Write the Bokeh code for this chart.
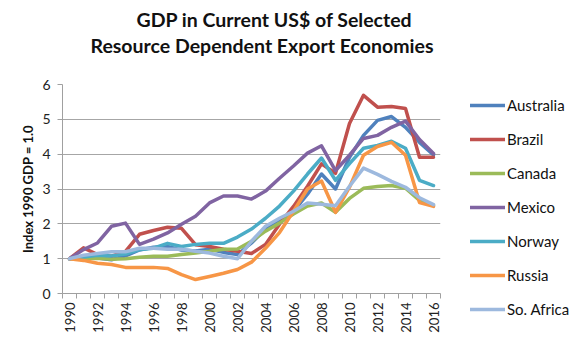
import math
from bokeh.plotting import figure
from bokeh.models import Range1d, FixedTicker, Legend, LegendItem, Title
from bokeh.embed import file_html
from bokeh.resources import INLINE

years = list(range(1990, 2017))
tick_years = list(range(1990, 2017, 2))
y_ticks = [0, 1, 2, 3, 4, 5, 6]

australia = [1.00, 1.05, 1.02, 0.97, 1.08, 1.25, 1.33, 1.35, 1.25, 1.22, 1.27, 1.18, 1.12, 1.45, 1.85, 2.10, 2.36, 2.85, 3.43, 3.00, 3.91, 4.54, 4.97, 5.08, 4.77, 4.34, 3.98]
brazil = [1.00, 1.31, 1.12, 1.07, 1.21, 1.70, 1.81, 1.90, 1.87, 1.40, 1.35, 1.27, 1.21, 1.15, 1.41, 1.99, 2.50, 3.08, 3.72, 3.45, 4.88, 5.69, 5.35, 5.37, 5.31, 3.91, 3.91]
canada = [1.00, 1.00, 1.01, 0.98, 1.00, 1.04, 1.07, 1.07, 1.12, 1.16, 1.21, 1.27, 1.28, 1.50, 1.79, 2.02, 2.28, 2.51, 2.60, 2.33, 2.73, 3.02, 3.07, 3.10, 3.02, 2.67, 2.53]
mexico = [1.00, 1.26, 1.45, 1.93, 2.02, 1.41, 1.56, 1.74, 1.99, 2.22, 2.60, 2.80, 2.80, 2.71, 2.94, 3.31, 3.66, 4.03, 4.24, 3.53, 3.97, 4.45, 4.54, 4.77, 4.95, 4.42, 4.02]
norway = [1.00, 1.05, 1.10, 1.08, 1.13, 1.26, 1.30, 1.44, 1.35, 1.41, 1.44, 1.44, 1.62, 1.85, 2.16, 2.51, 2.94, 3.43, 3.89, 3.25, 3.73, 4.17, 4.25, 4.37, 4.17, 3.25, 3.10]
russia = [1.00, 0.95, 0.87, 0.83, 0.75, 0.75, 0.75, 0.72, 0.54, 0.40, 0.49, 0.58, 0.69, 0.90, 1.30, 1.75, 2.36, 3.00, 3.23, 2.33, 3.05, 3.97, 4.22, 4.34, 3.97, 2.61, 2.50]
so_africa = [1.00, 1.10, 1.15, 1.20, 1.20, 1.30, 1.30, 1.27, 1.27, 1.21, 1.16, 1.07, 1.00, 1.50, 1.93, 2.16, 2.36, 2.60, 2.56, 2.52, 3.08, 3.60, 3.42, 3.22, 3.05, 2.75, 2.55]

series_names = ["Australia", "Brazil", "Canada", "Mexico", "Norway", "Russia", "So. Africa"]
series_values = [australia, brazil, canada, mexico, norway, russia, so_africa]
colors = ["#4F81BD", "#C0504D", "#9BBB59", "#8064A2", "#4BACC6", "#F79646", "#9DB9DE"]
title_lines = ["GDP in Current US$ of Selected", "Resource Dependent Export Economies"]

FONT = "Lato"

p = figure(frame_width=378, frame_height=209, output_backend="svg", toolbar_location=None,
           x_range=Range1d(1989.5, 2016.5), y_range=Range1d(0, 6),
           min_border_left=62, min_border_right=128, min_border_top=84, min_border_bottom=53)
p.title = None
p.outline_line_color = None
p.background_fill_color = "white"
p.border_fill_color = "white"

# above panel, stacked from the frame upward: spacer, line 2, line 1
spacer = Title(text=" ", text_font_size="1px", standoff=24)
t2 = Title(text=title_lines[1], align="left", offset=28, standoff=2,
           text_font=FONT, text_font_size="19.5px", text_font_style="bold", text_color="#111111")
t1 = Title(text=title_lines[0], align="left", offset=74, standoff=0,
           text_font=FONT, text_font_size="19.5px", text_font_style="bold", text_color="#111111")
p.add_layout(spacer, "above")
p.add_layout(t2, "above")
p.add_layout(t1, "above")

renderers = []
for name, vals, c in zip(series_names, series_values, colors):
    r = p.line(years, vals, line_color=c, line_width=3.5, line_join="round", line_cap="round")
    renderers.append((name, r))

# axes
p.xaxis.ticker = FixedTicker(ticks=tick_years, minor_ticks=[y - 0.5 for y in years] + [2016.5])
p.xaxis.major_label_orientation = math.pi / 2
p.xaxis.major_tick_out = 0
p.xaxis.major_tick_in = 0
p.xaxis.minor_tick_out = 5
p.xaxis.minor_tick_in = 0
p.xaxis.minor_tick_line_color = "#A0A0A0"
p.xaxis.axis_line_color = "#A0A0A0"
p.xaxis.major_label_text_font = FONT
p.xaxis.major_label_text_font_size = "13px"
p.xaxis.major_label_text_color = "#222222"
p.xaxis.major_label_standoff = 4

p.yaxis.ticker = FixedTicker(ticks=y_ticks)
p.yaxis.major_tick_out = 5
p.yaxis.major_tick_in = 0
p.yaxis.minor_tick_line_color = None
p.yaxis.major_tick_line_color = "#A0A0A0"
p.yaxis.axis_line_color = "#A0A0A0"
p.yaxis.major_label_text_font = FONT
p.yaxis.major_label_text_font_size = "14px"
p.yaxis.major_label_text_color = "#222222"
p.yaxis.major_label_standoff = 7
p.yaxis.axis_label = "Index 1990 GDP = 1.0"
p.yaxis.axis_label_text_font = FONT
p.yaxis.axis_label_text_font_size = "13px"
p.yaxis.axis_label_text_font_style = "bold"
p.yaxis.axis_label_text_color = "#111111"
p.yaxis.axis_label_standoff = 3

p.xgrid.grid_line_color = None
p.ygrid.grid_line_color = "#A6A6A6"
p.ygrid.grid_line_width = 1

legend = Legend(items=[LegendItem(label=n, renderers=[r]) for n, r in renderers],
                location=(30, -26))
legend.border_line_color = None
legend.background_fill_alpha = 0
legend.padding = 0
legend.margin = 0
legend.spacing = 14
legend.glyph_width = 35
legend.glyph_height = 20
legend.label_height = 20
legend.label_standoff = 2
legend.label_text_font = FONT
legend.label_text_font_size = "15px"
legend.label_text_color = "#111111"
p.add_layout(legend, "right")

open("out.html", "w").write(file_html(p, INLINE))
